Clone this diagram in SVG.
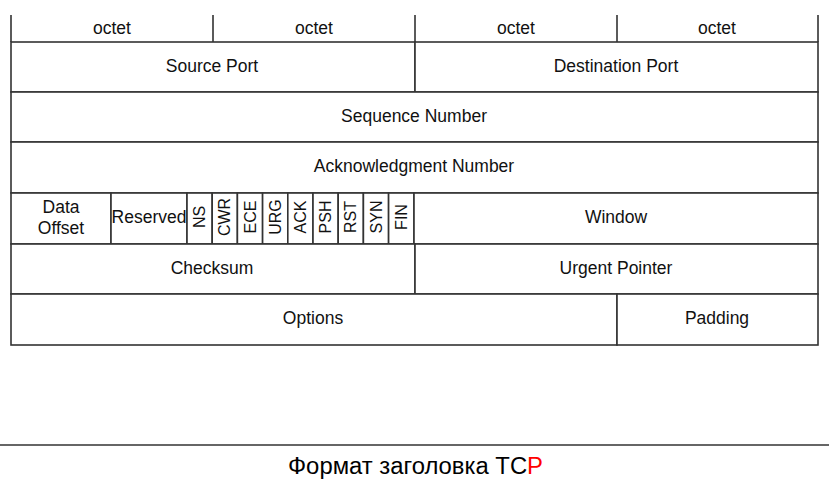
<svg xmlns="http://www.w3.org/2000/svg" width="829" height="479" viewBox="0 0 829 479">
<style>
.c{fill:#fff;stroke:#333;stroke-width:1.6}
.t{font-family:"Liberation Sans",Arial,sans-serif;font-size:17.5px;fill:#111;text-anchor:middle;dominant-baseline:central}
.f{font-family:"Liberation Sans",Arial,sans-serif;font-size:16px;fill:#111;text-anchor:middle;dominant-baseline:central}
.ln{stroke:#333;stroke-width:1.6;fill:none}
</style>
<rect width="829" height="479" fill="#fff"/>
<g id="octets">
<path class="ln" d="M11 15V42M213 15V42M415 15V42M617 15V42M818 15V42"/>
<text class="t" x="112" y="28">octet</text>
<text class="t" x="314" y="28">octet</text>
<text class="t" x="516" y="28">octet</text>
<text class="t" x="717" y="28">octet</text>
</g>
<g id="source-port"><rect class="c" x="11" y="42" width="404" height="50"/><text class="t" x="212" y="66">Source Port</text></g>
<g id="destination-port"><rect class="c" x="415" y="42" width="403" height="50"/><text class="t" x="616" y="66">Destination Port</text></g>
<g id="sequence-number"><rect class="c" x="11" y="92" width="807" height="50"/><text class="t" x="414" y="116">Sequence Number</text></g>
<g id="ack-number"><rect class="c" x="11" y="142" width="807" height="51"/><text class="t" x="414" y="166">Acknowledgment Number</text></g>
<g id="data-offset"><rect class="c" x="11" y="193" width="100" height="51"/><text class="t" x="61" y="207">Data</text><text class="t" x="61" y="228">Offset</text></g>
<g id="reserved"><rect class="c" x="111" y="193" width="76" height="51"/><text class="t" x="149" y="217">Reserved</text></g>
<g id="flags">
<rect class="c" x="187" y="193" width="25.2" height="51"/>
<rect class="c" x="212.2" y="193" width="25.2" height="51"/>
<rect class="c" x="237.4" y="193" width="25.2" height="51"/>
<rect class="c" x="262.6" y="193" width="25.2" height="51"/>
<rect class="c" x="287.8" y="193" width="25.2" height="51"/>
<rect class="c" x="313" y="193" width="25.2" height="51"/>
<rect class="c" x="338.2" y="193" width="25.2" height="51"/>
<rect class="c" x="363.4" y="193" width="25.2" height="51"/>
<rect class="c" x="388.6" y="193" width="25.4" height="51"/>
<text class="f" transform="translate(199.6 217) rotate(-90)">NS</text>
<text class="f" transform="translate(224.8 217) rotate(-90)">CWR</text>
<text class="f" transform="translate(250 217) rotate(-90)">ECE</text>
<text class="f" transform="translate(275.2 217) rotate(-90)">URG</text>
<text class="f" transform="translate(300.4 217) rotate(-90)">ACK</text>
<text class="f" transform="translate(325.6 217) rotate(-90)">PSH</text>
<text class="f" transform="translate(350.8 217) rotate(-90)">RST</text>
<text class="f" transform="translate(376 217) rotate(-90)">SYN</text>
<text class="f" transform="translate(401.3 217) rotate(-90)">FIN</text>
</g>
<g id="window"><rect class="c" x="414" y="193" width="404" height="51"/><text class="t" x="616" y="217">Window</text></g>
<g id="checksum"><rect class="c" x="11" y="244" width="404" height="50"/><text class="t" x="212" y="268">Checksum</text></g>
<g id="urgent-pointer"><rect class="c" x="415" y="244" width="403" height="50"/><text class="t" x="616" y="268">Urgent Pointer</text></g>
<g id="options"><rect class="c" x="11" y="294" width="606" height="51"/><text class="t" x="313" y="318">Options</text></g>
<g id="padding"><rect class="c" x="617" y="294" width="201" height="51"/><text class="t" x="717" y="318">Padding</text></g>
<g id="caption">
<path class="ln" d="M0 445H829"/>
<text x="415.5" y="474" font-family="'Liberation Sans',Arial,sans-serif" font-size="23" fill="#000" text-anchor="middle" textLength="255" lengthAdjust="spacingAndGlyphs">Формат заголовка TC<tspan fill="#f00">P</tspan></text>
</g>
</svg>
